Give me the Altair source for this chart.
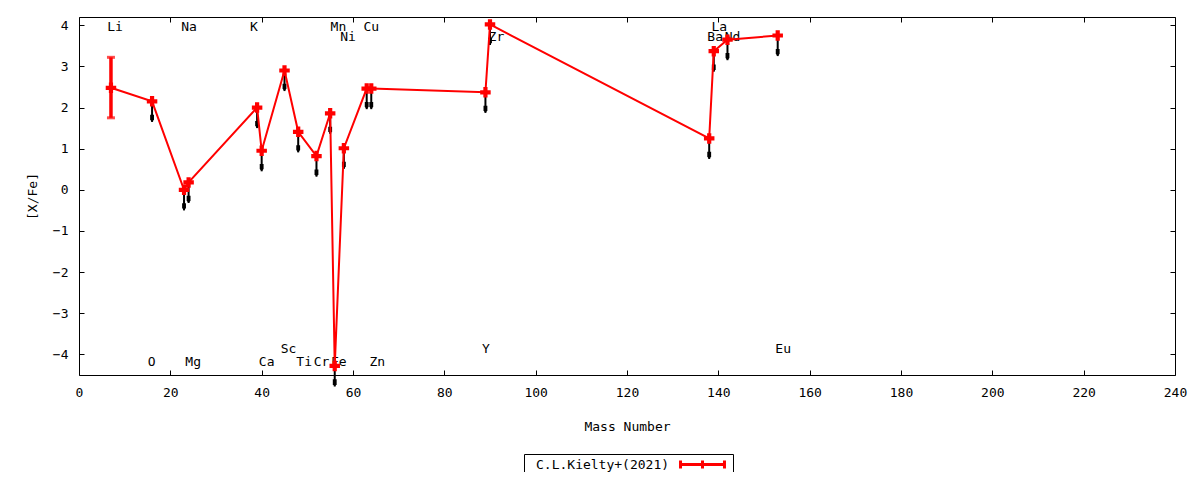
import altair as alt
import pandas as pd

FONT = "DejaVu Sans Mono"

elements = ["Li", "O", "Na", "Mg", "K", "Ca", "Sc", "Ti", "Cr", "Mn",
            "Fe", "Ni", "Cu", "Zn", "Y", "Zr", "Ba", "La", "Nd", "Eu"]
mass = [7, 16, 23, 24, 39, 40, 45, 48, 52, 55, 56, 58, 63, 64, 89, 90, 138, 139, 142, 153]
xfe = [2.48, 2.15, 0.00, 0.18, 2.00, 0.95, 2.90, 1.41, 0.82, 1.86,
       -4.28, 1.01, 2.46, 2.46, 2.37, 4.02, 1.25, 3.37, 3.65, 3.75]

# error bar of Li
err_mass = [7]
err_low = [1.75]
err_high = [3.22]

# downward (upper-limit) arrows below the points
arrow_mass = mass[1:]
arrow_top = xfe[1:]
arrow_len = 0.5

# element labels
label_text = ["Li", "O", "Na", "Mg", "K", "Ca", "Sc", "Ti", "Cr", "Mn",
              "Fe", "Ni", "Cu", "Zn", "Y", "Zr", "Ba", "La", "Nd", "Eu"]
label_x = [7.9, 15.9, 24.1, 25.0, 38.3, 41.1, 45.9, 49.3, 53.1, 56.8,
           56.9, 58.9, 64.0, 65.3, 89.1, 91.4, 139.3, 140.2, 143.1, 154.2]
label_y = [3.96, -4.19, 3.96, -4.19, 3.96, -4.19, -3.87, -4.19, -4.19, 3.96,
           -4.19, 3.71, 3.96, -4.19, -3.87, 3.71, 3.71, 3.96, 3.71, -3.87]

series_name = "\u2800C.L.Kielty+(2021)"

x_ticks = list(range(0, 241, 20))
y_ticks = [-4, -3, -2, -1, 0, 1, 2, 3, 4]

main = pd.DataFrame({"el": elements, "mass": mass, "xfe": xfe, "series": series_name})
err = pd.DataFrame({"mass": err_mass, "lo": err_low, "hi": err_high})
arr = pd.DataFrame({"mass": arrow_mass, "top": arrow_top})
arr["bot"] = arr["top"] - arrow_len
arr["head"] = arr["top"] - arrow_len * 0.82
labels = pd.DataFrame({"t": label_text, "x": label_x, "y": label_y})

xs = alt.Scale(domain=[0, 240], nice=False, zero=False)
ys = alt.Scale(domain=[-4.5, 4.2], nice=False, zero=False)

axis_common = dict(domain=False, grid=False, tickSize=5, offset=-5, tickColor="black",
                   labelFlush=False, labelOverlap=False,
                   labelFont=FONT, labelFontSize=13, labelColor="black",
                   titleFont=FONT, titleFontSize=13, titleFontWeight="normal", titleColor="black")

x_bottom = alt.Axis(orient="bottom", values=x_ticks, labelPadding=11, title="Mass Number",
                    titlePadding=21, **axis_common)
y_left = alt.Axis(orient="left", values=y_ticks, labelPadding=11, title="[X/Fe]",
                  titlePadding=13, **axis_common)
x_top = alt.Axis(orient="top", values=x_ticks, labels=False, title=None, **axis_common)
y_right = alt.Axis(orient="right", values=y_ticks, labels=False, title=None, **axis_common)

# arrows (black)
arrow_rule = alt.Chart(arr).mark_rule(color="black", strokeWidth=2).encode(
    x=alt.X("mass:Q", scale=xs, axis=None),
    y=alt.Y("top:Q", scale=ys, axis=None),
    y2="bot:Q",
)
arrow_head = alt.Chart(arr).mark_point(
    shape="M-0.55,-1L0.55,-1L0.55,0.4L0,1L-0.55,0.4Z", filled=True, color="black",
    size=49, opacity=1,
).encode(
    x=alt.X("mass:Q", scale=xs, axis=None),
    y=alt.Y("head:Q", scale=ys, axis=None),
)

# red line with legend
line = alt.Chart(main).mark_line(strokeWidth=2).encode(
    x=alt.X("mass:Q", scale=xs, axis=x_bottom),
    y=alt.Y("xfe:Q", scale=ys, axis=y_left),
    order="mass:Q",
    color=alt.Color(
        "series:N",
        scale=alt.Scale(domain=[series_name], range=["#ff0000"]),
        legend=alt.Legend(
            title=series_name, titleOrient="left", orient="none",
            legendX=445, legendY=437, labelExpr="''", labelOffset=0,
            symbolType="M-3.14,0H3.14M-3.14,-0.57V0.57M3.14,-0.57V0.57M0,-0.57V0.57",
            symbolSize=196, symbolStrokeWidth=3, symbolFillColor="transparent",
            strokeColor="black", padding=2, cornerRadius=0,
            titleFont=FONT, titleFontSize=13, titleFontWeight="normal",
            titleColor="black", titlePadding=24, titleBaseline="middle",
        ),
    ),
)

# Li error bar
err_rule = alt.Chart(err).mark_rule(color="#ff0000", strokeWidth=3.5).encode(
    x=alt.X("mass:Q", scale=xs, axis=None),
    y=alt.Y("lo:Q", scale=ys, axis=None),
    y2="hi:Q",
)
err_cap_lo = alt.Chart(err).mark_tick(color="#ff0000", thickness=3, size=8, orient="horizontal").encode(
    x=alt.X("mass:Q", scale=xs, axis=None),
    y=alt.Y("lo:Q", scale=ys, axis=None),
)
err_cap_hi = alt.Chart(err).mark_tick(color="#ff0000", thickness=3, size=8, orient="horizontal").encode(
    x=alt.X("mass:Q", scale=xs, axis=None),
    y=alt.Y("hi:Q", scale=ys, axis=None),
)

# crosses
points = alt.Chart(main).mark_point(shape="cross", filled=True, color="#ff0000", size=110, opacity=1).encode(
    x=alt.X("mass:Q", scale=xs, axis=x_top),
    y=alt.Y("xfe:Q", scale=ys, axis=y_right),
)

text = alt.Chart(labels).mark_text(font=FONT, fontSize=13, color="black", align="center",
                                   baseline="middle").encode(
    x=alt.X("x:Q", scale=xs, axis=None),
    y=alt.Y("y:Q", scale=ys, axis=None),
    text="t:N",
)

chart = alt.layer(
    text, arrow_rule, arrow_head, line, err_rule, err_cap_lo, err_cap_hi, points
).properties(
    width=1096, height=358,
    autosize=alt.AutoSizeParams(type="none"),
    padding={"left": 71, "top": 9, "right": 16, "bottom": 97},
    background="white",
).configure_view(stroke="black", strokeWidth=1)

chart.save("out.html", embed_options={"renderer": "svg", "actions": False})
